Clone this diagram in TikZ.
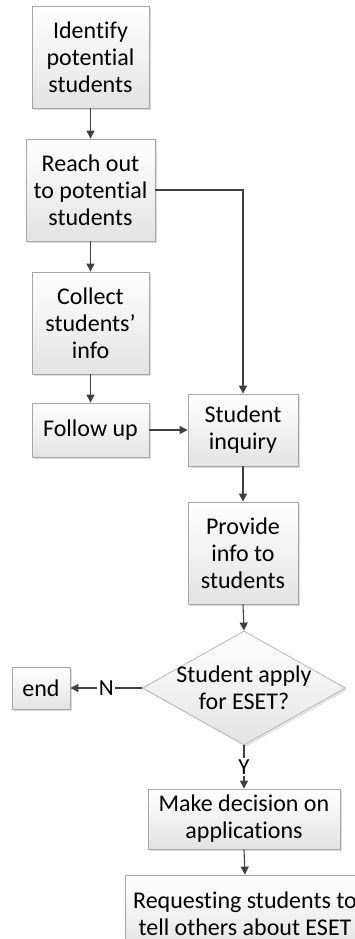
\documentclass[tikz,border=0pt]{standalone}
\usepackage{fontspec}
\setmainfont{Carlito}[Ligatures={NoCommon}]
\usetikzlibrary{arrows.meta,shapes.geometric,shadows}
\definecolor{edgegray}{HTML}{A6A6A6}
\definecolor{linegray}{HTML}{404040}
\begin{document}
\begin{tikzpicture}[x=1pt,y=-1pt,
  stepbox/.style={draw=edgegray, line width=0.8pt,
    top color=white, bottom color=black!11,
    drop shadow={shadow xshift=2pt, shadow yshift=-2pt, fill=black!14, opacity=1},
    align=center, inner sep=2pt, font=\fontsize{24}{27}\selectfont},
  choice/.style={diamond, draw=edgegray!80, line width=0.8pt,
    top color=white, bottom color=black!11,
    drop shadow={shadow xshift=2pt, shadow yshift=-2pt, fill=black!10, opacity=1},
    minimum width=203pt, minimum height=114pt, inner sep=0pt},
  conn/.style={draw=linegray, line width=1.1pt, -{Triangle[length=8pt,width=8pt]}},
  tag/.style={fill=white, inner sep=1.5pt, font=\fontsize{23}{25}\selectfont},
  plaintext/.style={align=center, font=\fontsize{24}{27}\selectfont}
]
\fill[white] (0,0) rectangle (355,939);
\useasboundingbox (0,0) rectangle (355,939);

% left column
\node[stepbox, minimum width=117pt, minimum height=102pt] (idn) at (90.5,57)
  {Identify\\potential\\students};
\node[stepbox, minimum width=129pt, minimum height=102pt] (reach) at (90.5,190)
  {Reach out\\to potential\\students};
\node[stepbox, minimum width=117pt, minimum height=102pt] (collect) at (90.5,323)
  {Collect\\students’\\info};
\node[stepbox, minimum width=117pt, minimum height=54pt] (follow) at (90.5,430)
  {Follow up};

% right column
\node[stepbox, minimum width=110pt, minimum height=72pt] (inquiry) at (243,430)
  {Student\\inquiry};
\node[stepbox, minimum width=110pt, minimum height=102pt] (provide) at (243,553)
  {Provide\\info to\\students};
\node[choice] (apply) at (244,688) {};
\node[plaintext] (applytext) at (244,688) {Student apply\\for ESET?};
\node[stepbox, minimum width=58pt, minimum height=42pt] (endbox) at (41,688)
  {end};
\node[stepbox, minimum width=192pt, minimum height=60pt] (decide) at (244,819)
  {Make decision on\\applications};
\node[stepbox, minimum width=240pt, minimum height=78pt] (request) at (245,914)
  {Requesting students to\\tell others about ESET};

% connectors
\draw[conn] (idn.south) -- (reach.north);
\draw[conn] (reach.south) -- (collect.north);
\draw[conn] (collect.south) -- (follow.north);
\draw[conn] (follow.east) -- (inquiry.west);
\draw[conn] (reach.east) -| (inquiry.north);
\draw[conn] (inquiry.south) -- (provide.north);
\draw[conn] (provide.south) -- (apply.north);
\draw[conn] (apply.west) -- node[tag] {N} (endbox.east);
\draw[conn] (apply.south) -- node[tag] {Y} (decide.north);
\draw[conn] (decide.south) -- (request.north);
\end{tikzpicture}
\end{document}
